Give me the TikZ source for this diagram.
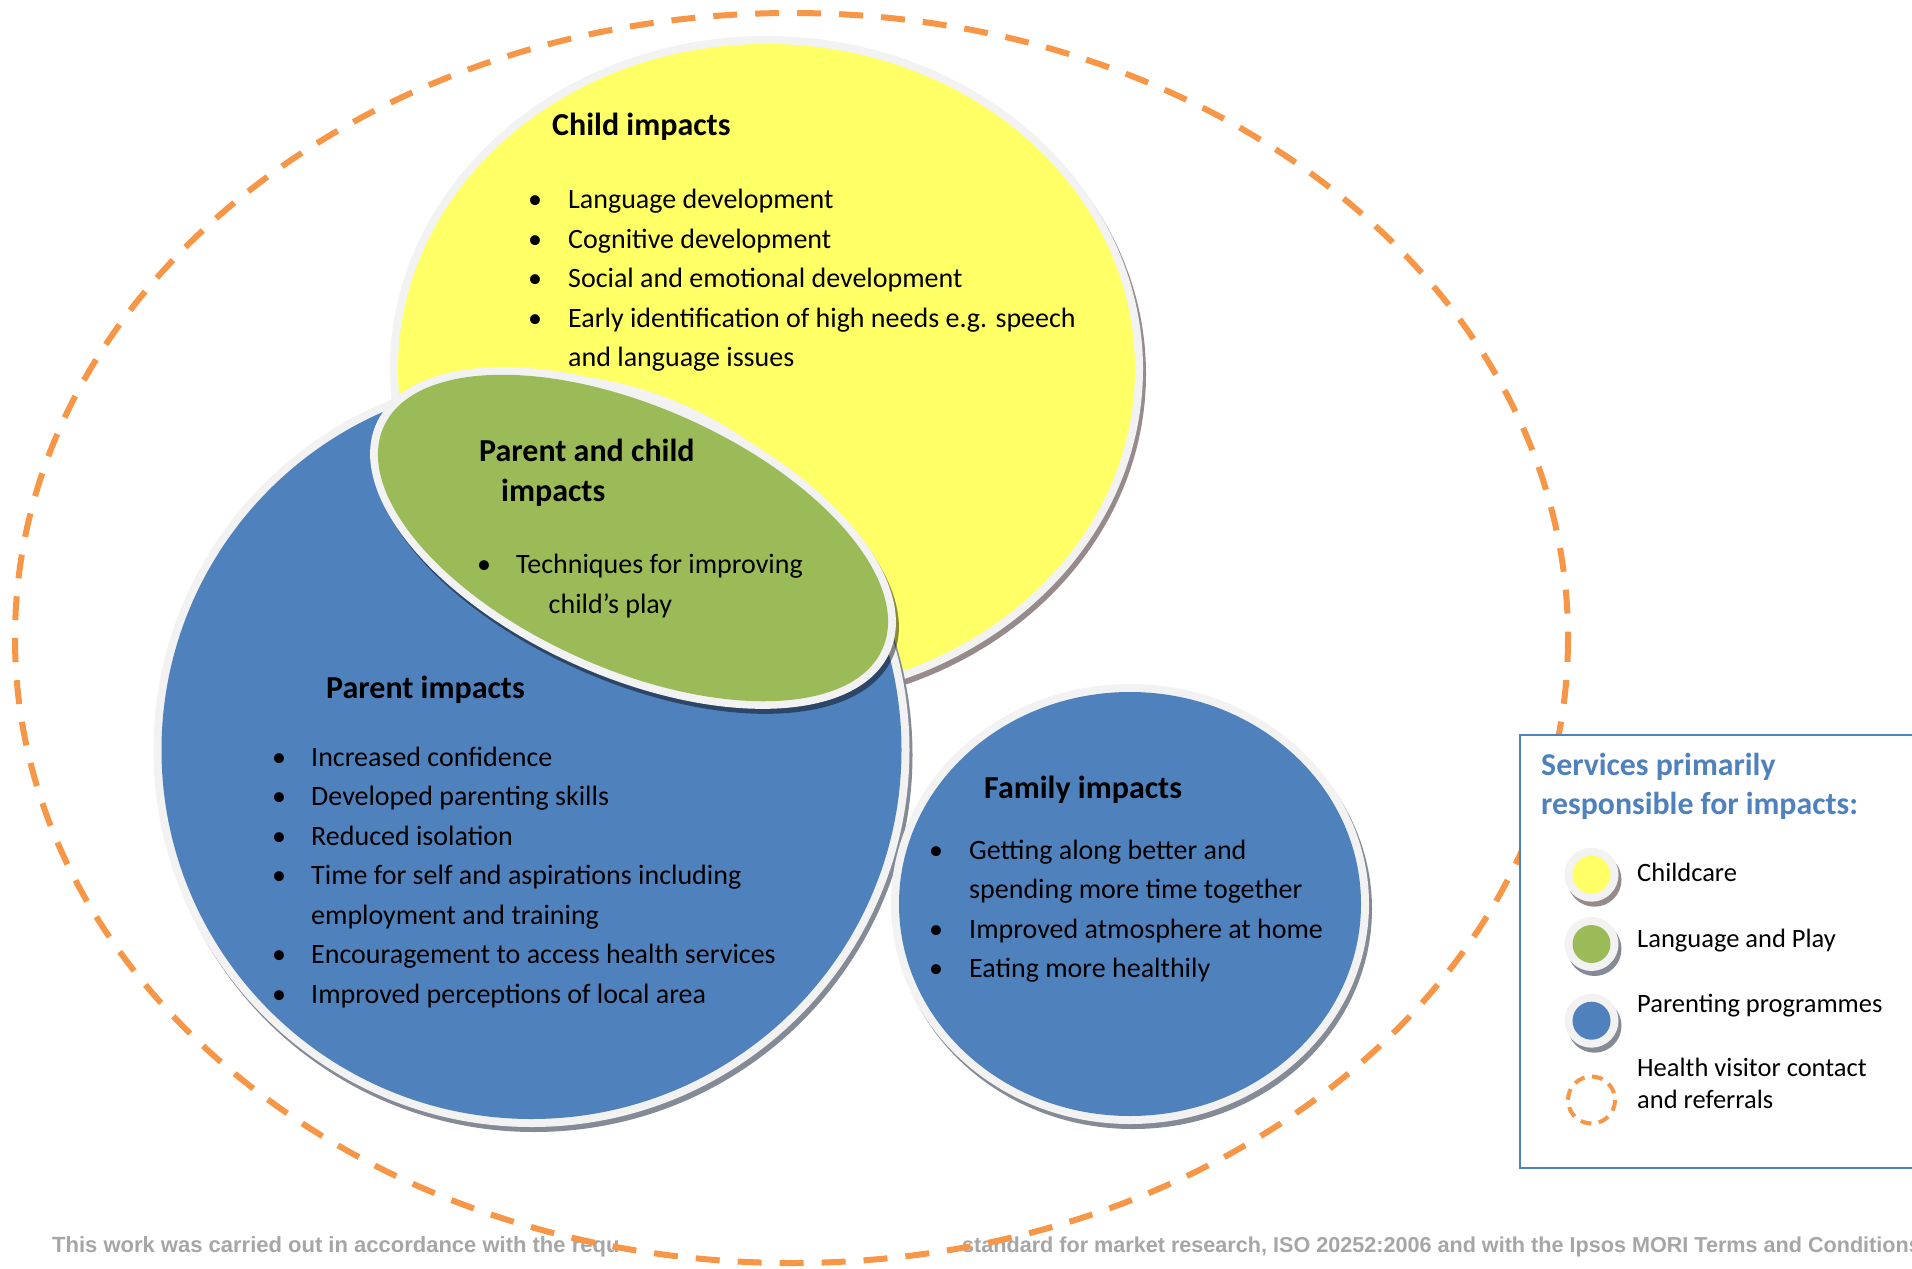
\documentclass[tikz,border=0pt]{standalone}
\usepackage{fontspec}
\setmainfont{Carlito}
\newfontfamily\footfont{Liberation Sans}
\definecolor{cyellow}{HTML}{FFFF66}
\definecolor{cgreen}{HTML}{9BBB59}
\definecolor{cblue}{HTML}{4F81BD}
\definecolor{rimgray}{HTML}{F2F2F2}
\definecolor{yshadow}{HTML}{978A8B}
\definecolor{bshadow}{HTML}{848B96}
\definecolor{hvorange}{HTML}{F79646}
\definecolor{footgray}{HTML}{A6A6A6}
% filled bubble with light rim and drop shadow: cx, cy, rx, ry, fill, shadow
\newcommand\drawbubble[6]{%
  \fill[#6, xshift=3pt, yshift=-5pt] (#1,#2) ellipse [x radius=#3, y radius=#4];
  \fill[rimgray] (#1,#2) ellipse [x radius=#3, y radius=#4];
  \fill[#5] (#1,#2) ellipse [x radius=#3-8, y radius=#4-8];}
\tikzset{
  body/.style={anchor=base west, inner sep=0pt, font=\fontsize{28}{34}\selectfont},
  dot/.style={anchor=base, inner sep=0pt, font=\fontsize{28}{34}\selectfont},
  head/.style={anchor=base west, inner sep=0pt, font=\bfseries\fontsize{32}{38}\selectfont},
  legtext/.style={anchor=base west, inner sep=0pt, font=\fontsize{26.5}{32}\selectfont},
  legtitle/.style={anchor=base west, inner sep=0pt, text=cblue, font=\bfseries\fontsize{31.8}{36}\selectfont},
  foot/.style={anchor=base west, inner sep=0pt, text=footgray, font=\footfont\bfseries\fontsize{22}{26}\selectfont},
  hvline/.style={draw=hvorange, line width=6pt, dash pattern=on 24pt off 18pt},
}
\begin{document}
\begin{tikzpicture}[x=1pt, y=-1pt]
\useasboundingbox (0,0) rectangle (1912,1269);
\fill[white] (0,0) rectangle (1912,1269);

% footer note
\node[foot] (footA) at (52,1252) {This work was carried out in accordance with the requ};
\node[foot, font=\footfont\bfseries\fontsize{21.6}{26}\selectfont] (footB) at (962,1252)
  {standard for market research, ISO 20252:2006 and with the Ipsos MORI Terms and Conditions};

% childcare bubble
\drawbubble{766.5}{369}{376.5}{333}{cyellow}{yshadow}
% parenting programmes bubble
\drawbubble{531.5}{750}{378}{377}{cblue}{bshadow}
% language and play ellipse
\fill[black, fill opacity=.45, xshift=3pt, yshift=-5pt, rotate around={-24:(633,538)}]
  (633,538) ellipse [x radius=281, y radius=139];
\fill[rimgray, rotate around={-24:(633,538)}]
  (633,538) ellipse [x radius=281, y radius=139];
\fill[cgreen, rotate around={-24:(633,538)}]
  (633,538) ellipse [x radius=273, y radius=131];
% family bubble
\drawbubble{1130}{904}{239}{220}{cblue}{bshadow}

% health visitor outline
\draw[hvline] (791.5,638) ellipse [x radius=776.5, y radius=625];

% child impacts
\node[head] (childT) at (552,135) {Child impacts};
\foreach \t [count=\i] in {Language development, Cognitive development,
    Social and emotional development, Early identification of high needs e.g. speech}
  \node[body] (child\i) at (568,{208.5+39.5*(\i-1)}) {\t};
\foreach \i in {1,...,4}
  \node[dot] (childb\i) at (535,{208.5+39.5*(\i-1)}) {•};
\node[body] (child5) at (568,366.5) {and language issues};

% parent and child impacts
\node[head] (pcT1) at (479,461.5) {Parent and child};
\node[head] (pcT2) at (501,501) {impacts};
\node[dot] (pcb1) at (484,573.3) {•};
\node[body] (pc1) at (516,573.3) {Techniques for improving};
\node[body] (pc2) at (548.5,613.3) {child’s play};

% parent impacts
\node[head] (parT) at (326,698.5) {Parent impacts};
\node[body] (par1) at (311,766.2) {Increased confidence};
\node[body] (par2) at (311,805.7) {Developed parenting skills};
\node[body] (par3) at (311,845.2) {Reduced isolation};
\node[body] (par4) at (311,884.7) {Time for self and aspirations including};
\node[body] (par5) at (311,924.2) {employment and training};
\node[body] (par6) at (311,963.7) {Encouragement to access health services};
\node[body] (par7) at (311,1003.2) {Improved perceptions of local area};
\foreach \i in {1,2,3,4,6,7}
  \node[dot] (parb\i) at (279,{766.2+39.5*(\i-1)}) {•};

% family impacts
\node[head] (famT) at (984,798.5) {Family impacts};
\node[body] (fam1) at (969,859.5) {Getting along better and};
\node[body] (fam2) at (969,898.9) {spending more time together};
\node[body] (fam3) at (969,938.3) {Improved atmosphere at home};
\node[body] (fam4) at (969,977.7) {Eating more healthily};
\foreach \i in {1,3,4}
  \node[dot] (famb\i) at (936,{859.5+39.4*(\i-1)}) {•};

% legend
\draw[cblue, line width=2pt, fill=white] (1520,735) rectangle (1930,1168);
\node[legtitle] (legT1) at (1541,775) {Services primarily};
\node[legtitle] (legT2) at (1541,814) {responsible for impacts:};
\drawbubble{1591.5}{874.7}{27}{27}{cyellow}{yshadow}
\drawbubble{1591.5}{944}{27}{27}{cgreen}{bshadow}
\drawbubble{1591.5}{1020.7}{27}{27}{cblue}{bshadow}
\draw[hvorange, line width=4pt, dash pattern=on 11pt off 7.5pt] (1591.5,1100) circle [radius=23.5];
\node[legtext] (leg1) at (1637,881.7) {Childcare};
\node[legtext] (leg2) at (1637,947.7) {Language and Play};
\node[legtext] (leg3) at (1637,1012.3) {Parenting programmes};
\node[legtext] (leg4) at (1637,1076.7) {Health visitor contact};
\node[legtext] (leg5) at (1637,1108.3) {and referrals};
\end{tikzpicture}
\end{document}
